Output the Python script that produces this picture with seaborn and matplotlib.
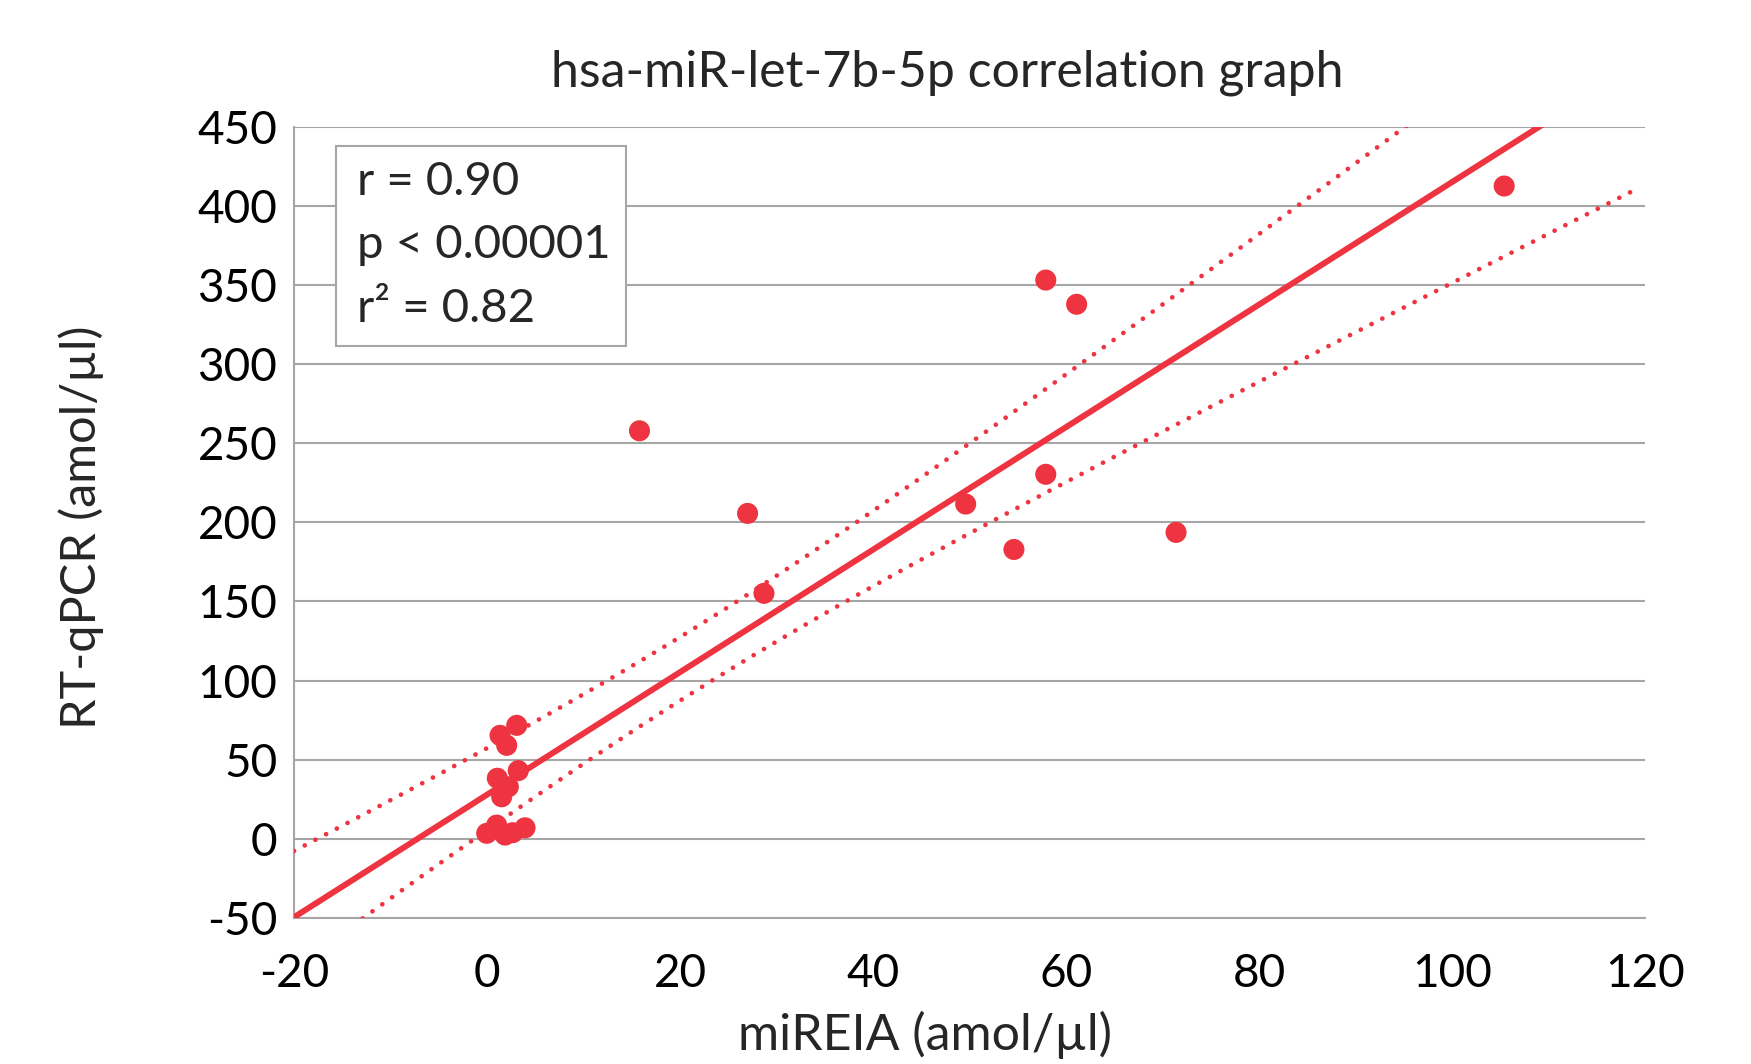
import matplotlib
matplotlib.use('Agg')
import matplotlib.pyplot as plt
from matplotlib.patches import Rectangle
import numpy as np
import pandas as pd
import seaborn as sns

# values
mireia = [1.35, 3.08, 2.04, 3.24, 1.07, 2.21, 1.52, -0.03, 1.0, 1.87, 2.66, 3.94,
          15.8, 27.0, 28.7, 49.6, 54.6, 57.9, 57.9, 61.1, 71.4, 105.4]
rtqpcr = [65.4, 71.7, 59.1, 43.1, 38.3, 32.9, 26.6, 3.5, 8.7, 2.4, 3.9, 7.0,
          257.8, 205.6, 155.1, 211.5, 182.8, 353.0, 230.3, 337.7, 193.6, 412.4]

# trendline and confidence band as drawn in the chart
fit_intercept = 27.9
fit_slope = 3.87
band_intercept = 31.4
band_slope = 3.80
band_xbar = 22.4
band_min = 20.0
band_curv = 0.5355
line_xmin, line_xmax = -20, 118.5

stats_lines = ['r = 0.90', 'p < 0.00001', 'r\u00b2 = 0.82']
x_ticks = [-20, 0, 20, 40, 60, 80, 100, 120]
y_ticks = [-50, 0, 50, 100, 150, 200, 250, 300, 350, 400, 450]

red = '#EE3440'
grid_grey = '#A6A6A6'

frame = pd.DataFrame({'miREIA': mireia, 'RT-qPCR': rtqpcr})

sns.set_theme(style='white')
plt.rcParams['font.family'] = ['Lato', 'DejaVu Sans']

fig = plt.figure(figsize=(17.51, 10.64), dpi=100)
ax = fig.add_axes([0.1679, 0.1372, 0.7716, 0.7439])

xs = np.linspace(line_xmin, line_xmax, 300)
trend = fit_intercept + fit_slope * xs
centre = band_intercept + band_slope * xs
half = np.sqrt(band_min ** 2 + band_curv * (xs - band_xbar) ** 2)

ax.plot(xs, trend, color=red, lw=4.3, solid_capstyle='round', zorder=3)
for band in (centre + half, centre - half):
    ax.plot(xs, band, color=red, lw=3.4, linestyle=(0, (0.01, 2.55)),
            dash_capstyle='round', zorder=3)

sns.scatterplot(data=frame, x='miREIA', y='RT-qPCR', color=red, s=230,
                edgecolor='none', ax=ax, zorder=4)

ax.set_xlim(-20, 120)
ax.set_ylim(-50, 450)
ax.set_xticks(x_ticks)
ax.set_yticks(y_ticks)
ax.set_xticklabels([str(v) for v in x_ticks])
ax.set_yticklabels([str(v) for v in y_ticks])
ax.tick_params(axis='both', length=0, labelsize=33, labelcolor='black')
ax.tick_params(axis='x', pad=25)
ax.tick_params(axis='y', pad=12)
ax.yaxis.grid(True, color=grid_grey, lw=1.5)
ax.set_axisbelow(True)
ax.set_xlabel('')
ax.set_ylabel('')
for side in ['top', 'right']:
    ax.spines[side].set_visible(False)
for side in ['left', 'bottom']:
    ax.spines[side].set_color(grid_grey)
    ax.spines[side].set_linewidth(1.5)

fig.text(947.5 / 1751, 1 - 87 / 1064, 'hsa-miR-let-7b-5p correlation graph',
         ha='center', va='baseline', fontsize=36)
fig.text(924.6 / 1751, 1 - 1050 / 1064, 'miREIA (amol/\u00b5l)',
         ha='center', va='baseline', fontsize=36)
fig.text(81.5 / 1751, 1 - 527 / 1064, 'RT-qPCR (amol/\u00b5l)',
         ha='center', va='center', rotation=90, fontsize=35)

# statistics box
fig.add_artist(Rectangle((336 / 1751, 1 - 346 / 1064), 290 / 1751, 200 / 1064,
                         transform=fig.transFigure, facecolor='white',
                         edgecolor=grid_grey, lw=1.5, zorder=5))
for i, line in enumerate(stats_lines):
    fig.text(357 / 1751, 1 - (182 + 63.3 * i) / 1064, line,
             ha='left', va='center', fontsize=34, zorder=6)

plt.savefig('out.png', dpi=100)
